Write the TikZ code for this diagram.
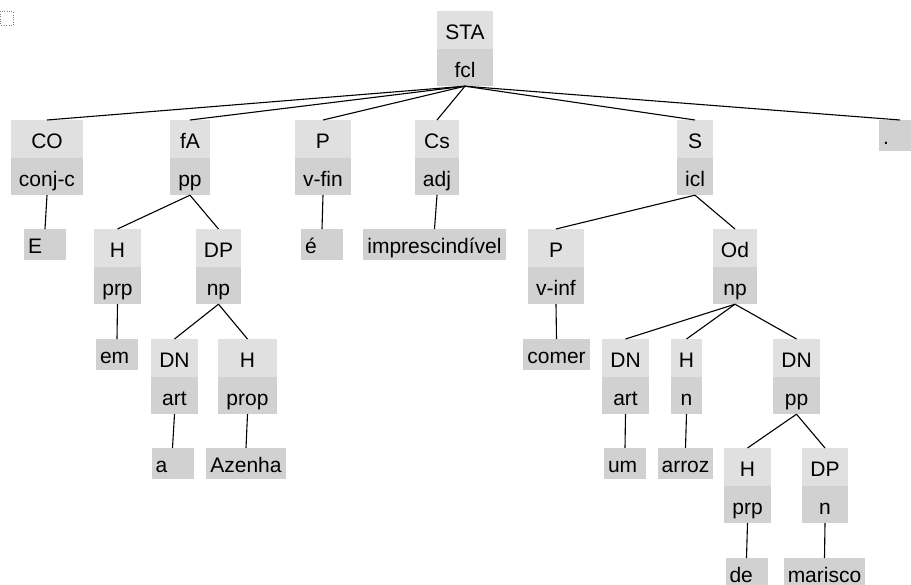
\documentclass[tikz,border=0pt]{standalone}
\usepackage{fontspec}
\setmainfont{Liberation Sans}
\usetikzlibrary{shapes.multipart}
\definecolor{funbg}{gray}{0.88}
\definecolor{formbg}{gray}{0.82}
\newcommand{\catstrut}{\rule[-5pt]{0pt}{30pt}}
\newcommand{\wordstrut}{\rule[-5pt]{0pt}{28pt}}

\begin{document}
\begin{tikzpicture}[x=1pt,y=-1pt,
    cat/.style={rectangle split, rectangle split parts=2,
      rectangle split part fill={funbg,formbg}, inner xsep=8pt, inner ysep=3.5pt,
      anchor=north, font=\fontsize{21}{25}\selectfont},
    word/.style={fill=formbg, inner xsep=4pt, inner ysep=1.5pt, minimum width=42pt,
      anchor=north, font=\fontsize{21}{25}\selectfont},
    short/.style={word, text width=34pt, align=left},
    branch/.style={line width=1.1pt}]
            \useasboundingbox (0,0) rectangle (911,585);
            \draw[dotted, gray] (0.5,11.5) rectangle (13,25); % focus mark
            % top level
            \node[cat] (sta) at (465,11) {\catstrut STA\nodepart{two}\catstrut fcl};
            \node[cat] (co) at (47,120) {\catstrut CO\nodepart{two}\catstrut conj-c};
            \node[cat] (fa) at (190,120) {\catstrut fA\nodepart{two}\catstrut pp};
            \node[cat] (pfin) at (323,120) {\catstrut P\nodepart{two}\catstrut v-fin};
            \node[cat] (cs) at (437,120) {\catstrut Cs\nodepart{two}\catstrut adj};
            \node[cat] (subj) at (695,120) {\catstrut S\nodepart{two}\catstrut icl};
            \node[short] (stop) at (900,120) {\wordstrut .};
            % second level
            \node[short] (wE) at (45,229) {\wordstrut E};
            \node[cat] (h1) at (117.5,229) {\catstrut H\nodepart{two}\catstrut prp};
            \node[cat] (dp1) at (218.5,229) {\catstrut DP\nodepart{two}\catstrut np};
            \node[short] (weh) at (322,229) {\wordstrut é};
            \node[word] (wimp) at (434.5,229) {\wordstrut imprescindível};
            \node[cat] (pinf) at (556,229) {\catstrut P\nodepart{two}\catstrut v-inf};
            \node[cat] (od) at (735,229) {\catstrut Od\nodepart{two}\catstrut np};
            % third level
            \node[short] (wem) at (117,339) {\wordstrut em};
            \node[cat] (dn1) at (174.5,339) {\catstrut DN\nodepart{two}\catstrut art};
            \node[cat] (hprop) at (247.5,339) {\catstrut H\nodepart{two}\catstrut prop};
            \node[word] (wcomer) at (556.5,339) {\wordstrut comer};
            \node[cat] (dn2) at (625.5,339) {\catstrut DN\nodepart{two}\catstrut art};
            \node[cat] (hn) at (686.5,339) {\catstrut H\nodepart{two}\catstrut n};
            \node[cat] (dnpp) at (796.5,339) {\catstrut DN\nodepart{two}\catstrut pp};
            % fourth level
            \node[short] (wa) at (172.5,448) {\wordstrut a};
            \node[word] (wazenha) at (246,448) {\wordstrut Azenha};
            \node[short] (wum) at (625,448) {\wordstrut um};
            \node[word] (warroz) at (685.5,448) {\wordstrut arroz};
            \node[cat] (h2) at (747.5,448) {\catstrut H\nodepart{two}\catstrut prp};
            \node[cat] (dpn) at (825,448) {\catstrut DP\nodepart{two}\catstrut n};
            % fifth level
            \node[short] (wde) at (746.5,558) {\wordstrut de};
            \node[word] (wmarisco) at (824.5,558) {\wordstrut marisco};
            \foreach \a/\b in {sta/co,sta/fa,sta/pfin,sta/cs,sta/subj,sta/stop,
                co/wE,fa/h1,fa/dp1,h1/wem,dp1/dn1,dp1/hprop,dn1/wa,hprop/wazenha,
                pfin/weh,cs/wimp,subj/pinf,subj/od,pinf/wcomer,od/dn2,od/hn,od/dnpp,
                dn2/wum,hn/warroz,dnpp/h2,dnpp/dpn,h2/wde,dpn/wmarisco} % edit here for the branches
            \draw[branch] (\a.south) -- (\b.north);
            \end{tikzpicture}
\end{document}
